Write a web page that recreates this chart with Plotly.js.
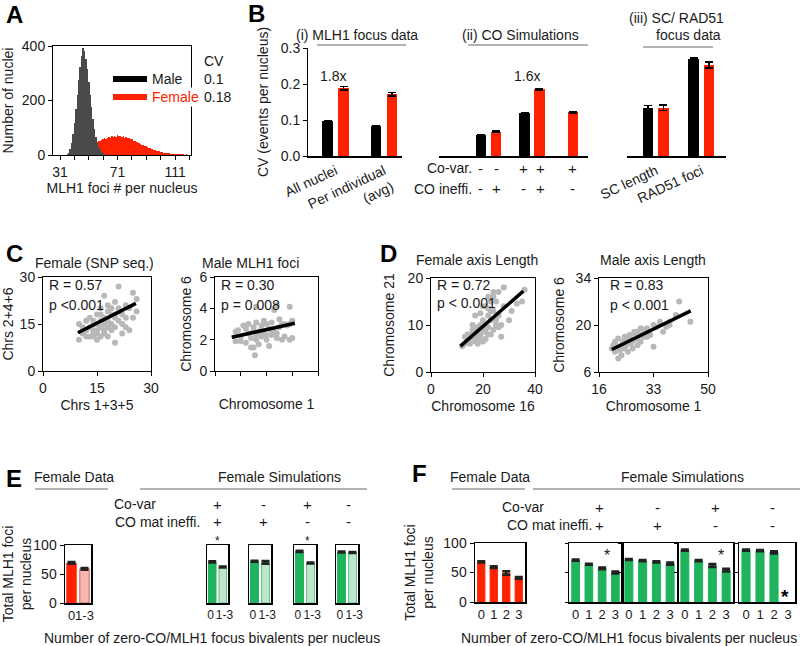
<!DOCTYPE html>
<html><head><meta charset="utf-8">
<script src="https://cdn.plot.ly/plotly-3.0.1.min.js"></script>
<style>html,body{margin:0;padding:0;background:#fff}#chart{width:800px;height:646px}</style>
</head><body><div id="chart"></div>
<script>
// ================= DATA =================
// A: histogram, MLH1 foci per nucleus (1-focus bins)
const maleHistStart = 35;
const maleHistCounts = [1,3,8,22,45,78,118,168,222,275,322,362,392,380,352,314,268,222,176,132,96,66,45,30,19,11,6,3,1];
const femaleHistStart = 38;
const femaleHistCounts = [1,2,3,3,5,7,8,11,13,15,18,22,24,28,31,33,37,41,43,47,50,52,56,58,61,60,64,66,63,68,66,70,67,72,69,71,66,68,64,65,61,62,58,57,53,52,48,47,43,42,38,36,33,32,28,27,24,22,20,19,16,15,13,12,10,9,8,7,6,6,5,4,4,3,3,3,2,2,2,2,1,2,1,1];
const histTickVals = [31,41,51,61,71,81,91,101,111,121];
const histTickText = ['31','','','','71','','','','111',''];
const legendNames = ['Male','Female'];
const cvValues = ['0.1','0.18'];

// B: CV (events per nucleus)
const bICats = ['All nuclei','Per individual<br>(avg)'];
const bIMale = [0.097, 0.083];
const bIMaleErr = [0.002, 0.002];
const bIFemale = [0.188, 0.171];
const bIFemaleErr = [0.005, 0.005];
const bIICats = ['sim1','sim2','sim3'];
const bIIMale = [0.058, 0.120, null];
const bIIMaleErr = [0.001, 0.001, 0];
const bIIFemale = [0.068, 0.186, 0.121];
const bIIFemaleErr = [0.002, 0.002, 0.002];
const bIICoVar = ['-','-','+','+','+'];
const bIICoIneff = ['-','+','-','+','-'];
const bIIICats = ['SC length','RAD51 foci'];
const bIIIMale = [0.134, 0.269];
const bIIIMaleErr = [0.006, 0.003];
const bIIIFemale = [0.134, 0.253];
const bIIIFemaleErr = [0.007, 0.008];
const bTicks = [0, 0.1, 0.2, 0.3];
const bTickText = ['0.0','0.1','0.2','0.3'];

// C: Female (SNP seq.)  Chrs 1+3+5 vs Chrs 2+4+6
const cFemX = [10,10,11,11,12,12,13,13,13,14,14,14,14,15,15,15,15,16,16,16,16,17,17,17,17,18,18,18,18,19,19,19,20,20,20,20,21,21,21,22,22,22,23,23,24,24,25,25,26,26,12,15,17,19,21,23,16,18,20,14];
const cFemY = [10,15,14,12,13,16,11,14,17,12,15,16,13,10,13,15,18,11,14,16,20,12,17,24,13,16,19,11,14,20,18,15,18,22,14,9,27,20,16,15,12,18,17,21,20,13,25,17,19,23,11,12,15,13,19,14,18,21,17,11];
const cFemFitX = [9.7, 25.8];
const cFemFitY = [12.2, 21.6];
// C: Male MLH1 foci  Chromosome 1 vs Chromosome 6
const cMaleX = [0.8,0.8,0.9,1.0,1.1,1.2,1.3,1.3,1.4,1.4,1.5,1.5,1.6,1.6,1.7,1.7,1.8,1.8,1.9,1.9,2.0,2.0,2.1,2.1,2.2,2.2,2.3,2.3,2.4,2.5,2.5,2.6,2.7,2.8,2.9,3.0,3.0,1.2,1.5,1.8,2.0,2.4,2.7,1.0,2.2,2.9,2.9,1.6,1.55,2.6,1.6,2.4];
const cMaleY = [2.5,1.9,2.6,2.2,2.9,1.8,2.4,3.0,1.5,2.1,2.6,1.5,3.1,2.0,2.5,1.7,2.9,2.2,3.2,2.4,2.0,3.0,2.7,1.6,3.1,2.3,3.9,2.5,2.1,2.8,3.3,2.0,3.0,2.9,4.1,2.1,3.2,2.7,2.8,2.6,2.3,2.4,2.2,1.9,2.6,3.0,2.0,2.3,1.0,3.0,4.1,4.2];
const cMaleFitX = [0.65, 3.1];
const cMaleFitY = [2.15, 3.05];

// D: Female axis length  Chromosome 16 vs Chromosome 21
const dFemX = [12,13,13,14,14,15,15,16,16,17,17,17,18,18,18,19,19,19,20,20,20,21,21,21,22,22,22,23,23,23,24,24,24,25,25,26,26,27,27,28,28,30,31,33,35,36,16,19,22,25,20,18,23,21,24,26,17,15,20,22];
const dFemY = [5.5,6,7.5,6.5,8,6,7,7.5,9,6.5,8.5,12,7,9.5,6,8,10,7.5,9,11,6.5,8.5,14,10,9.5,16,12,15,8,11,13,16,9,15,10,12,17,10,7.5,14,18,11,13,14.5,15,17.5,10,12.5,8,11,14,8,13,7,17,9.5,7,8,10,13.5];
const dFemFitX = [11.3, 35.5];
const dFemFitY = [5.5, 17.2];
// D: Male axis length  Chromosome 1 vs Chromosome 6
const dMaleX = [20,20.5,21,21,22,22,22.5,23,23,23.5,24,24,24.5,25,25,25.5,26,26,26.5,27,27,28,28,29,29,30,30,31,32,33,33,34,35,36,37,38,38,40,41,44.5,22,24,26,28,23,25,27,21,29,31];
const dMaleY = [13,14,12,15,13.5,16,12.5,14,11,15,13,16.5,14,15,12,17,14.5,16,13,15.5,18,16,14,17,19,16.5,18.5,19,17,20,13.5,19.5,21,18,19.5,21,20,23,27,21,10,14,15.5,18,13,16,17.5,14.5,15,16.5];
const dMaleFitX = [20, 44.6];
const dMaleFitY = [12.7, 24.2];

// E: total MLH1 foci per nucleus by zero-CO bivalent class
const eCats = ['0','1-3'];
const eData = [69, 59];
const eDataErr = [1.5, 1.5];
const eSim = [[71,62],[72,70],[89,69],[88,87]];
const eSimErr = [[1,1],[1,2.5],[1,1],[1,1]];
const simCoVar = ['+','-','+','-'];
const simCoMat = ['+','+','-','-'];
const eStars = ['*','','*',''];
// F
const fCats = ['0','1','2','3'];
const fData = [68, 59, 49, 41];
const fDataErr = [1, 1.5, 3, 1.5];
const fSim = [[71,64,57,50],[72,70,68,65],[88,70,62,54],[88,87,84,null]];
const fSimErr = [[1,1,1.5,1.5],[1,1,1,2],[1,1,2.5,2.5],[1,1,2,0]];
const yTicks100 = [0,50,100];

// ================= STYLE =================
const FONT = 'Liberation Sans, Arial, sans-serif';
const TXT = '#1a1a1a';
const RED = '#ff2200', HISTGRAY = '#4a4a4a', GREEN = '#1fb35e';
const LGREEN = '#bfe6cd', LRED = '#f0b8b0', PTGRAY = '#b8b8b8';
const px = v => v / 800, py = v => 1 - v / 646;
const dX = (a, b) => [px(a), px(b)];
const dY = (top, bottom) => [py(bottom), py(top)];
const f14 = {family:FONT, size:14, color:TXT};

function axis(o) {
  return Object.assign({showgrid:false, zeroline:false, showline:true, linecolor:'#000', linewidth:1,
    ticks:'outside', ticklen:4, tickcolor:'#000', tickfont:f14, fixedrange:true}, o);
}
function ttl(text, standoff) { return {text:text, standoff:standoff, font:f14}; }
function txt(x, y, text, o) {
  return Object.assign({xref:'paper', yref:'paper', x:px(x), y:py(y), text:text, showarrow:false,
    xanchor:'center', yanchor:'middle', font:f14}, o || {});
}
function hline(x0, x1, y, c) {
  return {type:'line', xref:'paper', yref:'paper', x0:px(x0), x1:px(x1), y0:py(y), y1:py(y), line:{color:c || '#666', width:1}};
}

const traces = [];
const layout = {
  width:800, height:646, margin:{l:0,r:0,t:0,b:0}, showlegend:false,
  paper_bgcolor:'#fff', plot_bgcolor:'rgba(0,0,0,0)', barmode:'overlay', bargap:0,
  font:f14, annotations:[], shapes:[]
};
const A = layout.annotations, S = layout.shapes;
const bold24 = {family:FONT, size:24, color:'#000', weight:'bold'};

// ---------- Panel A ----------
traces.push({type:'bar', x0:femaleHistStart, dx:1, y:femaleHistCounts, width:1, marker:{color:RED, line:{width:0}}, xaxis:'x', yaxis:'y', name:'Female'});
traces.push({type:'bar', x0:maleHistStart, dx:1, y:maleHistCounts, width:1, marker:{color:HISTGRAY, line:{width:0}}, xaxis:'x', yaxis:'y', name:'Male'});
layout.xaxis = axis({domain:dX(53,191), range:[26.1,122.1], tickvals:histTickVals, ticktext:histTickText, anchor:'y', mirror:true,
  title:ttl('MLH1 foci # per nucleus', 4)});
layout.yaxis = axis({domain:dY(46,155), range:[0,400], tickvals:[0,200,400], anchor:'x', mirror:true,
  title:ttl('Number of nuclei', 6)});
S.push({type:'rect', xref:'paper', yref:'paper', x0:px(113), x1:px(147), y0:py(82), y1:py(76), fillcolor:'#000', line:{width:0}});
S.push({type:'rect', xref:'paper', yref:'paper', x0:px(113), x1:px(147), y0:py(100), y1:py(94), fillcolor:RED, line:{width:0}});
A.push(txt(150, 79, legendNames[0], {xanchor:'left'}));
A.push(txt(150, 97, legendNames[1], {xanchor:'left', font:{family:FONT, size:14, color:RED}, bgcolor:'#fff'}));
A.push(txt(202, 61, 'CV', {xanchor:'left'}));
A.push(txt(202, 79, cvValues[0], {xanchor:'left'}));
A.push(txt(202, 97, cvValues[1], {xanchor:'left'}));
A.push(txt(14, 14, 'A', {font:bold24}));

// ---------- Panel B ----------
function errY(arr, w) { return {type:'data', array:arr, color:'#000', thickness:1.5, width:w || 4}; }
traces.push({type:'bar', x:bICats, y:bIMale, error_y:errY(bIMaleErr), marker:{color:'#000'}, width:0.22, offset:-0.275, xaxis:'x2', yaxis:'y2'});
traces.push({type:'bar', x:bICats, y:bIFemale, error_y:errY(bIFemaleErr), marker:{color:RED}, width:0.22, offset:0.055, xaxis:'x2', yaxis:'y2'});
traces.push({type:'bar', x:bIICats, y:bIIMale, error_y:errY(bIIMaleErr), marker:{color:'#000'}, width:0.24, offset:-0.29, xaxis:'x3', yaxis:'y3'});
traces.push({type:'bar', x:bIICats, y:bIIFemale, error_y:errY(bIIFemaleErr), marker:{color:RED}, width:0.24, offset:[0.05,0.05,-0.178], xaxis:'x3', yaxis:'y3'});
traces.push({type:'bar', x:bIIICats, y:bIIIMale, error_y:errY(bIIIMaleErr), marker:{color:'#000'}, width:0.23, offset:-0.29, xaxis:'x4', yaxis:'y4'});
traces.push({type:'bar', x:bIIICats, y:bIIIFemale, error_y:errY(bIIIFemaleErr), marker:{color:RED}, width:0.23, offset:0.05, xaxis:'x4', yaxis:'y4'});
const bDom = dY(48,156);
layout.xaxis2 = axis({domain:dX(308,402), range:[-0.57,1.372], anchor:'y2', ticks:'', tickangle:-25, linewidth:1.5});
layout.yaxis2 = axis({domain:bDom, range:[0,0.3], tickvals:bTicks, ticktext:bTickText, anchor:'x2',
  title:ttl('CV (events per nucleus)', 8)});
layout.xaxis3 = axis({domain:dX(439,588), range:[-1.138,2.287], anchor:'y3', ticks:'', showticklabels:false, linewidth:1.5});
layout.yaxis3 = axis({domain:bDom, range:[0,0.3], anchor:'x3', visible:false});
layout.xaxis4 = axis({domain:dX(627,726), range:[-0.637,1.539], anchor:'y4', ticks:'', tickangle:-25, linewidth:1.5});
layout.yaxis4 = axis({domain:bDom, range:[0,0.3], anchor:'x4', visible:false});
A.push(txt(256, 13, 'B', {font:bold24}));
A.push(txt(357, 35, '(i) MLH1 focus data'));
S.push(hline(317, 406, 45));
A.push(txt(520, 35, '(ii) CO Simulations'));
S.push(hline(468, 588, 45));
A.push(txt(676, 18, '(iii) SC/ RAD51'));
A.push(txt(688, 35, 'focus data'));
S.push(hline(643, 713, 47));
A.push(txt(333, 76, '1.8x'));
A.push(txt(527, 76, '1.6x'));
A.push(txt(474, 168, 'Co-var.', {xanchor:'right'}));
A.push(txt(474, 189, 'CO ineffi.', {xanchor:'right'}));
const bSignX = [480, 496, 523, 540, 572];
bIICoVar.forEach((s, i) => A.push(txt(bSignX[i], 168, s, {font:{family:FONT, size:15, color:TXT}})));
bIICoIneff.forEach((s, i) => A.push(txt(bSignX[i], 188, s, {font:{family:FONT, size:15, color:TXT}})));

// ---------- Panels C and D ----------
function scatterPanel(n, xs, ys, fx, fy) {
  traces.push({type:'scatter', mode:'markers', x:xs, y:ys, marker:{color:PTGRAY, size:6}, xaxis:'x'+n, yaxis:'y'+n});
  traces.push({type:'scatter', mode:'lines', x:fx, y:fy, line:{color:'#000', width:3.5}, xaxis:'x'+n, yaxis:'y'+n});
}
scatterPanel(5, cFemX, cFemY, cFemFitX, cFemFitY);
scatterPanel(6, cMaleX, cMaleY, cMaleFitX, cMaleFitY);
scatterPanel(7, dFemX, dFemY, dFemFitX, dFemFitY);
scatterPanel(8, dMaleX, dMaleY, dMaleFitX, dMaleFitY);
const cdY = dY(277,371);
layout.xaxis5 = axis({domain:dX(43,151), range:[0,30], tickvals:[0,15,30], anchor:'y5', mirror:true, title:ttl('Chrs 1+3+5', 5)});
layout.yaxis5 = axis({domain:cdY, range:[0,30], tickvals:[0,15,30], anchor:'x5', mirror:true, title:ttl('Chrs 2+4+6', 3)});
layout.xaxis6 = axis({domain:dX(215,318), range:[0,4], tickvals:[0,1,2,3,4], showticklabels:false, anchor:'y6', mirror:true, title:ttl('Chromosome 1', 24)});
layout.yaxis6 = axis({domain:cdY, range:[0,6], tickvals:[0,2,4,6], anchor:'x6', mirror:true, title:ttl('Chromosome 6', 4)});
layout.xaxis7 = axis({domain:dX(431,535), range:[0,40], tickvals:[0,20,40], anchor:'y7', mirror:true, title:ttl('Chromosome 16', 5)});
layout.yaxis7 = axis({domain:dY(278,372), range:[0,20], tickvals:[0,10,20], anchor:'x7', mirror:true, title:ttl('Chromosome 21', 9)});
layout.xaxis8 = axis({domain:dX(599,708), range:[16,50], tickvals:[16,33,50], anchor:'y8', mirror:true, title:ttl('Chromosome 1', 5)});
layout.yaxis8 = axis({domain:dY(278,372), range:[6,34], tickvals:[6,20,34], anchor:'x8', mirror:true, title:ttl('Chromosome 6', 7)});
A.push(txt(14, 253, 'C', {font:bold24}));
A.push(txt(388, 253, 'D', {font:bold24}));
A.push(txt(94, 263, 'Female (SNP seq.)'));
A.push(txt(251, 263, 'Male MLH1 foci'));
A.push(txt(477, 260, 'Female axis Length'));
A.push(txt(653, 260, 'Male axis Length'));
A.push(txt(47, 285, 'R = 0.57', {xanchor:'left'}));
A.push(txt(47, 305, 'p <0.001', {xanchor:'left'}));
A.push(txt(219, 285, 'R = 0.30', {xanchor:'left'}));
A.push(txt(219, 305, 'p = 0.008', {xanchor:'left'}));
A.push(txt(435, 285, 'R = 0.72', {xanchor:'left'}));
A.push(txt(435, 303, 'p < 0.001', {xanchor:'left'}));
A.push(txt(608, 285, 'R = 0.83', {xanchor:'left'}));
A.push(txt(608, 305, 'p < 0.001', {xanchor:'left'}));

// ---------- Panels E and F ----------
function boxAxes(n, xd, yd, cats, tickText, labelSize, showY, yTickLen, title) {
  layout['xaxis'+n] = axis({domain:xd, type:'category', tickmode:'array', tickvals:cats.slice(), ticktext:tickText, tickangle:0,
    anchor:'y'+n, mirror:true, ticks:'', linewidth:1.5, tickfont:{family:FONT, size:labelSize, color:TXT}});
  layout['yaxis'+n] = axis({domain:yd, range:[0,100], tickvals:yTicks100, anchor:'x'+n, mirror:true, linewidth:1.5,
    showticklabels:showY, ticks:yTickLen ? 'outside' : '', ticklen:yTickLen || 4,
    title: title ? ttl(title, 6) : undefined});
}
function boxBars(n, cats, vals, errs, colors, lineColors, w) {
  traces.push({type:'bar', x:cats, y:vals, width:w, marker:{color:colors, line:{color:lineColors, width:1}},
    error_y:{type:'data', array:errs, color:'#222', thickness:2.5, width:4}, xaxis:'x'+n, yaxis:'y'+n});
}
// narrow E boxes: pad the two class labels with a space so they read apart
const eTickText = [eCats[0] + '\u00a0', '\u00a0' + eCats[1]];
const eY = dY(545,603), fY = dY(543,602);
boxAxes(9, dX(65,91), eY, eCats, eCats.slice(), 13, true, 4, 'Total MLH1 foci<br>per nucleus');
boxBars(9, eCats, eData, eDataErr, [RED, LRED], [RED, '#e06050'], 0.72);
const eBoxes = [[207,228],[249,271],[294,316],[336,358]];
eBoxes.forEach((b, i) => {
  boxAxes(10+i, dX(b[0],b[1]), eY, eCats, eTickText.slice(), 12, false, 0, null);
  boxBars(10+i, eCats, eSim[i], eSimErr[i], [GREEN, LGREEN], [GREEN, '#5cc488'], 0.72);
});
boxAxes(14, dX(475,525), fY, fCats, fCats.slice(), 13, true, 4, 'Total MLH1 foci<br>per nucleus');
boxBars(14, fCats, fData, fDataErr, RED, RED, 0.58);
const fBoxes = [[569,622],[622,677],[678,733],[739,795]];
fBoxes.forEach((b, i) => {
  boxAxes(15+i, dX(b[0],b[1]), fY, fCats, fCats.slice(), 13, false, 3, null);
  boxBars(15+i, fCats, fSim[i], fSimErr[i], GREEN, GREEN, 0.58);
});
A.push(txt(14, 478, 'E', {font:bold24}));
A.push(txt(419, 473, 'F', {font:bold24}));
A.push(txt(74, 477, 'Female Data'));
S.push(hline(35, 108, 489));
A.push(txt(279, 477, 'Female Simulations'));
S.push(hline(140, 367, 489));
A.push(txt(490, 477, 'Female Data'));
S.push(hline(452, 525, 489));
A.push(txt(682, 477, 'Female Simulations'));
S.push(hline(533, 800, 489));
A.push(txt(158, 504, 'Co-var', {xanchor:'right'}));
A.push(txt(202, 522, 'CO mat ineffi.', {xanchor:'right'}));
A.push(txt(546, 507, 'Co-var', {xanchor:'right'}));
A.push(txt(594, 525, 'CO mat ineffi.', {xanchor:'right'}));
const eSignX = [217, 263, 307, 348], fSignX = [599, 657, 715, 772];
const signFont = {family:FONT, size:15, color:TXT};
simCoVar.forEach((s, i) => { A.push(txt(eSignX[i], 504, s, {font:signFont})); A.push(txt(fSignX[i], 507, s, {font:signFont})); });
simCoMat.forEach((s, i) => { A.push(txt(eSignX[i], 521, s, {font:signFont})); A.push(txt(fSignX[i], 525, s, {font:signFont})); });
eStars.forEach((s, i) => { if (s) A.push(txt(eSignX[i], 541, s, {font:{family:FONT, size:12, color:TXT}})); });
A.push(txt(607, 555, '*', {font:{family:FONT, size:16, color:TXT}}));
A.push(txt(721, 555, '*', {font:{family:FONT, size:16, color:TXT}}));
A.push(txt(785, 596, '*', {font:{family:FONT, size:19, color:'#000', weight:'bold'}}));
A.push(txt(212, 638, 'Number of zero-CO/MLH1 focus bivalents per nucleus'));
A.push(txt(629, 638, 'Number of zero-CO/MLH1 focus bivalents per nucleus'));

Plotly.newPlot('chart', traces, layout, {staticPlot:true, displayModeBar:false});
</script></body></html>
